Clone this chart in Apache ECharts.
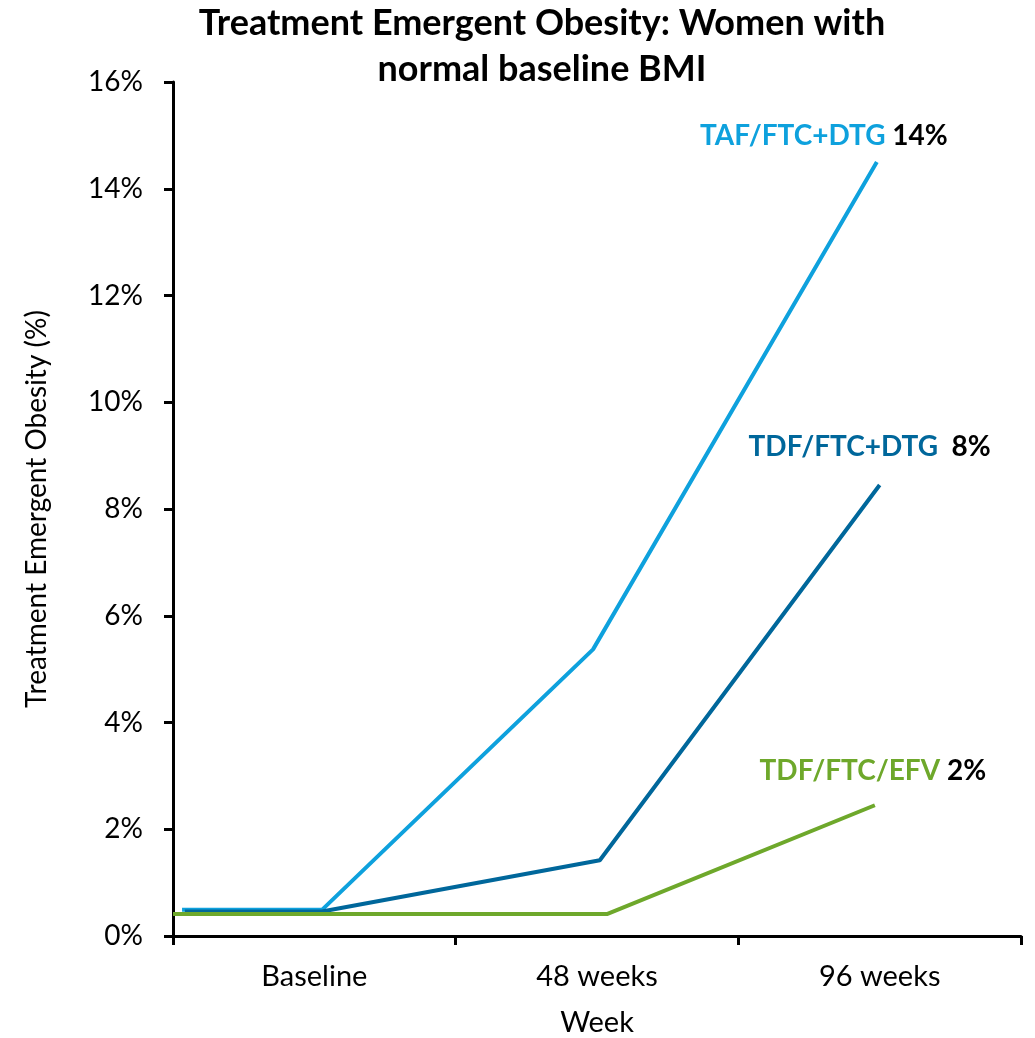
<!DOCTYPE html>
<html><head><meta charset="utf-8">
<script src="https://cdn.jsdelivr.net/npm/echarts@6/dist/echarts.min.js"></script>
<style>html,body{margin:0;padding:0;background:#fff}#c{width:1035px;height:1038px}</style>
</head><body><div id="c"></div>
<script>
const categories = ['Baseline', '48 weeks', '96 weeks'];
const yTicks = [0, 2, 4, 6, 8, 10, 12, 14, 16];
// [position along week axis (category units), percent]
const tafFtcDtg = [[0.032, 0.49], [0.527, 0.49], [1.486, 5.37], [2.49, 14.5]];
const tdfFtcDtg = [[0.042, 0.46], [0.527, 0.46], [1.51, 1.42], [2.50, 8.45]];
const tdfFtcEfv = [[0.0, 0.41], [1.535, 0.41], [2.483, 2.45]];
const endLabels = [['TAF/FTC+DTG ', '14%'], ['TDF/FTC+DTG  ', '8%'], ['TDF/FTC/EFV ', '2%']];

const FONT = 'Lato';
const C1 = '#0ea1dd', C2 = '#00679b', C3 = '#6ea82b';

function mkSeries(data, color, lab, offset) {
  return {
    type: 'line', xAxisIndex: 1, data: data, symbol: 'none',
    lineStyle: { color: color, width: 4 }, itemStyle: { color: color },
    label: { show: false },
    endLabel: {
      show: true, position: 'top', offset: offset, align: 'center',
      formatter: () => '{a|' + lab[0] + '}{b|' + lab[1] + '}',
      rich: {
        a: { color: color, fontFamily: FONT, fontWeight: 'bold', fontSize: 28 },
        b: { color: '#000', fontFamily: FONT, fontWeight: 'bold', fontSize: 28 }
      }
    },
    animation: false
  };
}

const chart = echarts.init(document.getElementById('c'));
chart.setOption({
  animation: false,
  title: {
    text: 'Treatment Emergent Obesity: Women with\nnormal baseline BMI',
    left: 537, textAlign: 'center', top: -5,
    textStyle: { fontFamily: FONT, fontWeight: 'bold', fontSize: 36, lineHeight: 46, color: '#000' }
  },
  grid: { left: 173, right: 14, top: 82, bottom: 102, containLabel: false, outerBoundsMode: 'none' },
  xAxis: [{
    type: 'category', data: categories, boundaryGap: true,
    name: 'Week', nameLocation: 'middle', nameGap: 72,
    nameTextStyle: { fontFamily: FONT, fontSize: 29, color: '#000' },
    axisLine: { lineStyle: { color: '#000', width: 3 } },
    axisTick: { show: true, length: 9, lineStyle: { color: '#000', width: 3 } },
    axisLabel: { fontFamily: FONT, fontSize: 29, color: '#000', margin: 26 },
    splitLine: { show: false }
  }, {
    type: 'value', min: 0, max: 3, show: false
  }],
  yAxis: {
    type: 'value', min: 0, max: 16, interval: 2,
    name: 'Treatment Emergent Obesity (%)', nameLocation: 'middle', nameGap: 122,
    nameTextStyle: { fontFamily: FONT, fontSize: 28, color: '#000' },
    axisLine: { show: true, lineStyle: { color: '#000', width: 3 } },
    axisTick: { show: true, length: 9, lineStyle: { color: '#000', width: 3 } },
    axisLabel: { fontFamily: FONT, fontSize: 28, color: '#000', margin: 30,
      formatter: v => yTicks.includes(v) ? v + '%' : '' },
    splitLine: { show: false }
  },
  series: [
    mkSeries(tafFtcDtg, C1, endLabels[0], [-61, -26]),
    mkSeries(tdfFtcDtg, C2, endLabels[1], [-18, -38]),
    mkSeries(tdfFtcEfv, C3, endLabels[2], [-10, -34])
  ]
});
</script></body></html>
